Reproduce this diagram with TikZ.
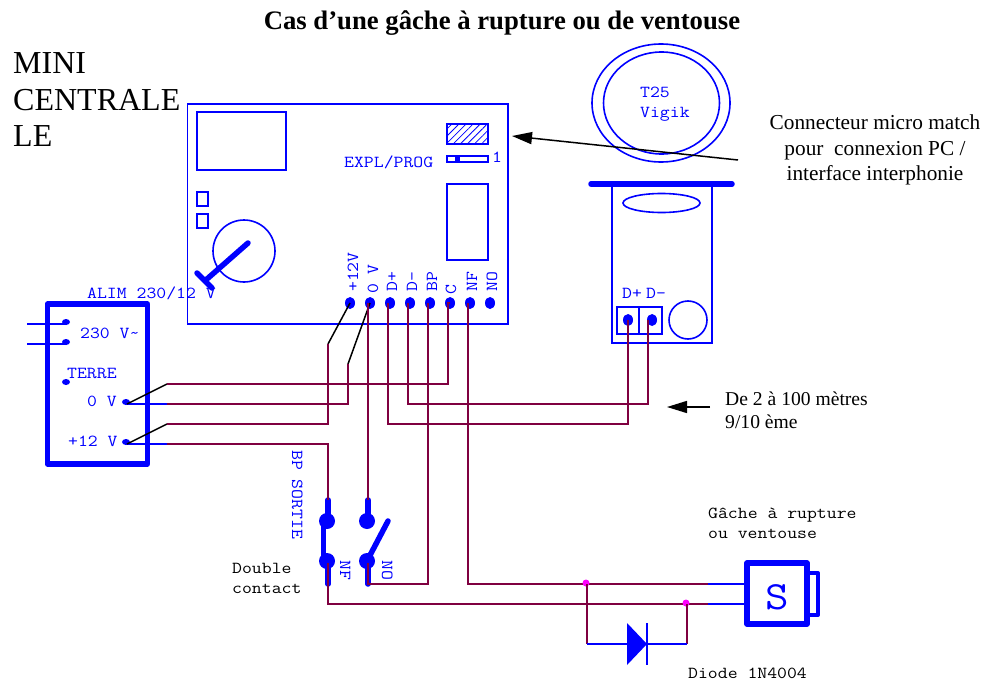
\documentclass[tikz,border=0pt]{standalone}
\usepackage{fontspec}
\usetikzlibrary{shapes.geometric,arrows.meta,patterns.meta}
\setmainfont{Liberation Serif}
\newfontfamily\monof[FakeStretch=1.143]{Latin Modern Mono}
\definecolor{wireC}{HTML}{7F0040}
\definecolor{bl}{HTML}{0000FF}
\definecolor{mg}{HTML}{FF00FF}
\tikzset{
 x=1pt,y=-1pt,
 thin box/.style={draw=bl,line width=1.6pt,line join=miter},
 heavy/.style={draw=bl,line width=5.5pt,line cap=round,line join=round},
 med/.style={draw=bl,line width=5.5pt,line cap=round},
 bwire/.style={draw=bl,line width=1.6pt},
 wire/.style={draw=wireC,line width=1.6pt,line join=miter},
 kline/.style={draw=black,line width=1.5pt},
 term/.style={ellipse,fill=bl,inner sep=0pt,minimum width=10pt,minimum height=12pt},
 dotT/.style={ellipse,fill=bl,inner sep=0pt,minimum width=8pt,minimum height=6pt},
 swd/.style={circle,fill=bl,inner sep=0pt,minimum size=16pt},
 jn/.style={circle,fill=mg,inner sep=0pt,minimum size=7pt},
 mlab/.style={inner sep=0pt,anchor=base west,text=bl,font=\monof\fontsize{16.8}{16.8}\selectfont},
 klab/.style={inner sep=0pt,anchor=base west,text=black,font=\monof\fontsize{16.8}{16.8}\selectfont},
 vlab/.style={mlab,rotate=90},
 vrlab/.style={mlab,rotate=-90},
 ann/.style={inner sep=0pt,anchor=base,text=black,font=\fontsize{21.3}{21.3}\selectfont},
 ann2/.style={inner sep=0pt,anchor=base west,text=black,font=\fontsize{19.6}{19.6}\selectfont},
 big/.style={inner sep=0pt,anchor=base west,text=black,font=\fontsize{32}{32}\selectfont},
}
\begin{document}
\begin{tikzpicture}
\useasboundingbox (0,0) rectangle (982,682);
% title
\node[inner sep=0pt,anchor=base] (title) at (502,29.5) {\fontsize{26.7}{26.7}\selectfont\bfseries Cas d’une gâche à rupture ou de ventouse};
\node[big] (mini1) at (13,74) {MINI};
\node[big] (mini2) at (13,110.5) {CENTRALE};
\node[big] (mini3) at (13,146.5) {LE};
% main board
\draw[thin box] (187.5,104) rectangle (508,324);
\draw[thin box] (197,112) rectangle (286,170);
\draw[thin box,pattern={Lines[angle=45,distance=5pt,line width=.8pt]},pattern color=bl] (447,124) rectangle (488,144);
\draw[thin box] (447,156) rectangle (488,162);
\fill[bl] (455,156) rectangle (460,162);
\draw[thin box] (447,184) rectangle (488,260);
\draw[thin box] (197,192) rectangle (208,206);
\draw[thin box] (197,214) rectangle (208,228);
\draw[thin box] (244,251) circle (31);
\draw[med] (248,243) -- (207,279);
\draw[med] (197,273) -- (212,288);
\node[mlab] (expl) at (344,167) {EXPL/PROG};
\node[mlab] (one) at (492,162) {1};
% board terminals
\node[term] (t12) at (350,303) {};
\node[term] (t0) at (370,303) {};
\node[term] (tdp) at (390,303) {};
\node[term] (tdm) at (410,303) {};
\node[term] (tbp) at (430,303) {};
\node[term] (tc) at (450,303) {};
\node[term] (tnf) at (470,303) {};
\node[term] (tno) at (490,303) {};
\node[vlab] (l12) at (358,292) {+12V};
\node[vlab] (l0) at (378,294) {0 V};
\node[vlab] (ldp) at (397,292) {D+};
\node[vlab] (ldm) at (417,292) {D-};
\node[vlab] (lbp) at (437,292) {BP};
\node[vlab] (lc) at (456,295) {C};
\node[vlab] (lnf) at (477,292) {NF};
\node[vlab] (lno) at (497,292) {NO};
% alim
\draw[heavy] (47.5,304) rectangle (147.5,464);
\node[dotT] (a1) at (66,322) {};
\node[dotT] (a2) at (66,342) {};
\node[dotT] (a3) at (66,382) {};
\node[dotT] (a0) at (126,402) {};
\node[dotT] (a12) at (126,442) {};
\coordinate (in1) at (27,324);
\coordinate (in2) at (27,344);
\draw[bwire] (in1) -- (in1 -| a1);
\draw[bwire] (in2) -- (in2 -| a2);
\node[mlab] (lalim) at (87,298) {ALIM 230/12 V};
\node[mlab] (l230) at (80,338) {230 V\char"007E};
\node[mlab] (lter) at (67,378) {TERRE};
\node[mlab] (la0) at (87,406) {0 V};
\node[mlab] (la12) at (68,446) {+12 V};
% reader
\draw[thin box] (661,103) ellipse [x radius=69,y radius=59];
\draw[thin box] (661.5,103) ellipse [x radius=58,y radius=51];
\node[mlab] (t25) at (640,98) {T25};
\node[mlab] (vig) at (640,118) {Vigik};
\draw[thin box] (612,184) rectangle (712,343);
\draw[med] (591,184) -- (732,184);
\draw[thin box] (661.5,203) ellipse [x radius=38.5,y radius=9.5];
\node[mlab] (rdp) at (622,298) {D+};
\node[mlab] (rdm) at (646,298) {D-};
\draw[thin box] (617,307) rectangle (639,334);
\draw[thin box] (639,307) rectangle (662,334);
\draw[thin box] (688,320) circle (19);
\node[term] (r1) at (628,320) {};
\node[term] (r2) at (652,320) {};
% junction coordinates
\coordinate (j1) at (167,384);
\coordinate (j2) at (167,404);
\coordinate (j3) at (167,424);
\coordinate (j4) at (167,444);
\coordinate (k0) at (348,364);
\coordinate (k12) at (328,344);
\coordinate (a0b) at (127,404);
\coordinate (a12b) at (127,444);
% blue stubs and black leads
\draw[bwire] (a0b) -- (j2);
\draw[bwire] (a12b) -- (j4);
\draw[kline] (a0b) -- (j1);
\draw[kline] (a12b) -- (j3);
\draw[kline] (k12) -- (t12.center);
\draw[kline] (k0) -- (t0.center);
% switch
\coordinate (s1t) at (328,500);
\coordinate (s1b) at (328,584);
\coordinate (s2t) at (368,500);
\coordinate (s2b) at (368,584);
\node[swd] (s1a) at (327,521) {};
\node[swd] (s1c) at (327,561) {};
\node[swd] (s2a) at (367,521) {};
\node[swd] (s2c) at (367,561) {};
\coordinate (bl1) at (388,521);
\draw[med] (s1t) -- (328,521);
\draw[med] (328,561) -- (s1b);
\draw[med] (s2t) -- (368,521);
\draw[med] (368,561) -- (s2b);
\draw[med] (323.5,521) -- (323.5,561);
\draw[med] (s2c.center) -- (bl1);
\node[vrlab] (lbps) at (292,450) {BP SORTIE};
\node[vrlab] (lnf2) at (340,560) {NF};
\node[vrlab] (lno2) at (382,560) {NO};
\node[klab] (ld1) at (232,573) {Double};
\node[klab] (ld2) at (232,593) {contact};
% strike
\coordinate (w1) at (708,584);
\coordinate (w2) at (708,604);
\coordinate (g1) at (747,584);
\coordinate (g2) at (747,604);
\draw[bwire] (w1) -- (g1);
\draw[bwire] (w2) -- (g2);
\draw[draw=bl,line width=4pt,line join=round] (807,573) -- (818,573) -- (818,615) -- (807,615);
\draw[heavy] (747,563) rectangle (807,624);
\node[inner sep=0pt,anchor=base,text=bl,font=\monof\fontsize{40}{40}\selectfont] (ss) at (777,609) {S};
\node[klab] (lg1) at (708,518) {Gâche à rupture};
\node[klab] (lg2) at (708,538) {ou ventouse};
% wires
\draw[wire] (tc.center) -- (448,303) |- (j1);
\draw[wire] (j2) -| (k0);
\draw[wire] (j3) -| (k12);
\draw[wire] (j4) -| (s1t);
\draw[wire] (368,303) -- (s2t);
\draw[wire] (388,303) -- (388,424) -| (628,320);
\draw[wire] (408,303) -- (408,404) -| (648,320);
\draw[wire] (428,303) |- (368,584) -- (368,563);
\draw[wire] (468,303) |- (w1);
\draw[wire] (328,563) |- (w2);
% diode
\node[jn] (jd1) at (586,583) {};
\node[jn] (jd2) at (686,603) {};
\coordinate (dl) at (587,644);
\coordinate (dr) at (687,644);
\draw[wire] (587,584) -- (dl);
\draw[wire] (687,604) -- (dr);
\draw[bwire] (dl) -- (dr);
\fill[bl] (627,623) -- (627,665) -- (647,644) -- cycle;
\draw[draw=bl,line width=2pt] (647,623) -- (647,665);
\node[klab] (ldi) at (688,678) {Diode 1N4004};
% annotations
\node[ann] (c1) at (875,130) {Connecteur micro match};
\node[ann] (c2) at (875,155) {pour\ \ connexion PC /};
\node[ann] (c3) at (875,180) {interface interphonie};
\coordinate (ar1) at (738,160);
\coordinate (ar2) at (512,136);
\draw[kline,-{Triangle[length=20pt,width=12pt]}] (ar1) -- (ar2);
\node[ann2] (d1) at (725,405) {De 2 à 100 mètres};
\node[ann2] (d2) at (725,428) {9/10 ème};
\coordinate (ar3) at (710,407);
\coordinate (ar4) at (667,407);
\draw[kline,-{Triangle[length=20pt,width=12pt]}] (ar3) -- (ar4);
\end{tikzpicture}
\end{document}
